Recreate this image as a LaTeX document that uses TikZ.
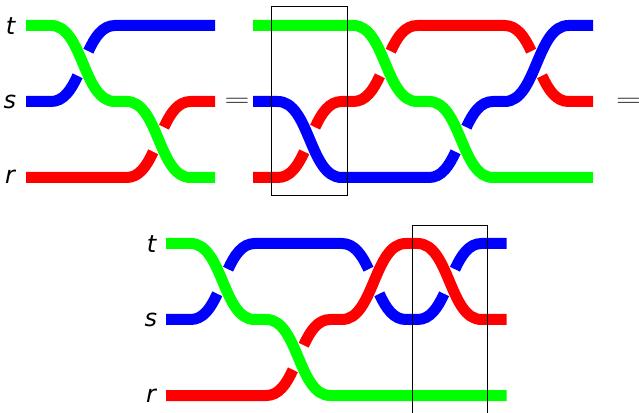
\documentclass[tikz,border=0pt]{standalone}
\usepackage{fontspec}
\setmainfont{DejaVu Sans}

\newcommand{\fall}{.. controls +(32,0) and +(-32,0) .. ++(64,76)}
\newcommand{\rise}{.. controls +(32,0) and +(-32,0) .. ++(64,-76)}
\newcommand{\riseopen}{.. controls +(12.5,0) and +(-6.5,14.1) .. ++(26.6,-25.7)}
\newcommand{\riseclose}{.. controls +(6.5,-14.1) and +(-12.5,0) .. ++(26.6,-25.7)}
\newcommand{\fallopen}{.. controls +(12.5,0) and +(-6.5,-14.1) .. ++(26.6,25.7)}
\newcommand{\fallclose}{.. controls +(6.5,14.1) and +(-12.5,0) .. ++(26.6,25.7)}

\begin{document}
\begin{tikzpicture}[x=0.75pt,y=-0.75pt,
    strand/.style={line width=8.25pt},
    label/.style={font=\fontsize{18}{18}\selectfont\itshape,inner sep=0pt},
    equal/.style={font=\fontsize{18}{18}\selectfont,inner sep=0pt,xscale=1.5},
    frame/.style={black,line width=0.6pt}]
  \useasboundingbox (0,0) rectangle (639,413);

  % first braid
  \draw[strand,red] (26,177.5) -- (126.6,177.5) \riseopen (164,127.2) \riseclose -- (215,101.5);
  \draw[strand,blue] (26,101.5) -- (51,101.5) \riseopen (88.4,51.2) \riseclose -- (215,25.5);
  \draw[strand,green] (26,25.5) -- (51,25.5) \fall -- (126.6,101.5) \fall -- (215,177.5);

  % second braid
  \draw[strand,red] (253,177.5) -- (277.7,177.5) \riseopen (315.1,127.2) \riseclose -- (353.3,101.5) \riseopen
    (390.7,51.2) \riseclose -- (504.6,25.5) \fallopen (542,75.8) \fallclose -- (593,101.5);
  \draw[strand,blue] (253,101.5) -- (277.7,101.5) \fall -- (429,177.5) \riseopen
    (466.4,127.2) \riseclose -- (504.6,101.5) \rise -- (593,25.5);
  \draw[strand,green] (253,25.5) -- (353.3,25.5) \fall -- (429,101.5) \fall -- (593,177.5);

  % third braid
  \draw[strand,red] (166,395.5) -- (266.3,395.5) \riseopen (303.7,345.2) \riseclose -- (341.9,319.5) \rise -- (417.5,243.5) \fall -- (506.5,319.5);
  \draw[strand,blue] (166,319.5) -- (190.7,319.5) \riseopen (228.1,269.2) \riseclose -- (341.9,243.5) \fallopen
    (379.3,293.8) \fallclose -- (417.5,319.5) \riseopen (454.9,269.2) \riseclose -- (506.5,243.5);
  \draw[strand,green] (166,243.5) -- (190.7,243.5) \fall -- (266.3,319.5) \fall -- (506.5,395.5);

  % boxes
  \draw[frame] (271.5,6.5) rectangle (347.5,195.5);
  \draw[frame] (412,413) -- (412,225) -- (487.5,225) -- (487.5,413);

  \node[label] (t1) at (10.5,26) {t};
  \node[label] (s1) at (10,101.5) {s};
  \node[label] (r1) at (10,177) {r};
  \node[label] (t2) at (151.5,244.5) {t};
  \node[label] (s2) at (151,319.5) {s};
  \node[label] (r2) at (151,395.5) {r};
  \node[equal] (eq1) at (237,102.5) {$=$};
  \node[equal] (eq2) at (628.5,102.5) {$=$};
\end{tikzpicture}
\end{document}
